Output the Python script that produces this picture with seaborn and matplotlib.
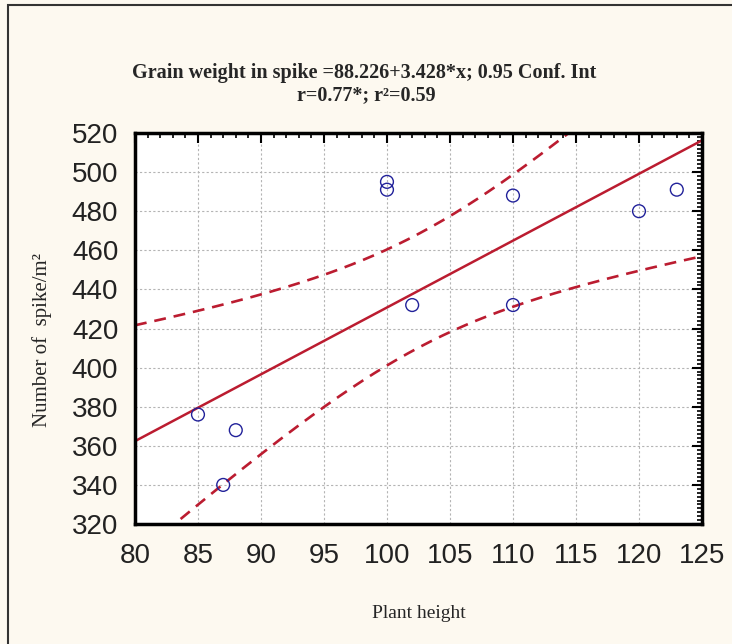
import numpy as np
import pandas as pd
import seaborn as sns
import matplotlib.pyplot as plt
from matplotlib.patches import Rectangle
from matplotlib.ticker import MultipleLocator

# Data
plant_height = [85, 87, 88, 100, 100, 102, 110, 110, 120, 123]
spike_number = [376, 340, 368, 495, 491, 432, 488, 432, 480, 491]

title_line1 = "Grain weight in spike =88.226+3.428*x; 0.95 Conf. Int"
title_line2 = "r=0.77*; r²=0.59"
x_label = "Plant height"
y_label = "Number of  spike/m²"

df = pd.DataFrame({"height": plant_height, "spikes": spike_number})

# Linear fit with 95% confidence band for the mean
x = df["height"].to_numpy(float)
y = df["spikes"].to_numpy(float)
n = len(x)
slope, intercept = np.polyfit(x, y, 1)
resid = y - (intercept + slope * x)
s = np.sqrt(np.sum(resid ** 2) / (n - 2))
t_crit = 2.306  # t(0.975, df=8)
sxx = np.sum((x - x.mean()) ** 2)

grid_x = np.linspace(80, 125, 200)
fit_y = intercept + slope * grid_x
half = t_crit * s * np.sqrt(1 / n + (grid_x - x.mean()) ** 2 / sxx)
band = pd.DataFrame({"x": grid_x, "fit": fit_y, "lo": fit_y - half, "hi": fit_y + half})

sns.set_style("white")
plt.rcParams["font.family"] = ["Liberation Sans", "DejaVu Sans"]

fig = plt.figure(figsize=(7.32, 6.44), dpi=100)
fig.patch.set_facecolor("#fdf9f0")
ax = fig.add_axes([0.1844, 0.1863, 0.7746, 0.6072])
ax.set_facecolor("white")

red = "#bb1c30"
sns.lineplot(data=band, x="x", y="fit", ax=ax, color=red, lw=1.8)
sns.lineplot(data=band, x="x", y="lo", ax=ax, color=red, lw=1.9, linestyle=(0, (4.5, 3)))
sns.lineplot(data=band, x="x", y="hi", ax=ax, color=red, lw=1.9, linestyle=(0, (4.5, 3)))
sns.scatterplot(data=df, x="height", y="spikes", ax=ax, marker="o", s=85,
                facecolor="none", edgecolor="#22229a", linewidth=1.0, zorder=5)

ax.set_xlim(80, 125)
ax.set_ylim(320, 520)
ax.xaxis.set_major_locator(MultipleLocator(5))
ax.xaxis.set_minor_locator(MultipleLocator(1))
ax.yaxis.set_major_locator(MultipleLocator(20))
ax.yaxis.set_minor_locator(MultipleLocator(2))

ax.grid(True, which="major", color="#b4b4b4", lw=0.8, linestyle=(0, (2, 2)))
ax.tick_params(which="both", direction="in", top=True, right=True, color="black")
ax.tick_params(which="major", length=7, width=1.5, labelsize=20, labelcolor="#222222")
ax.tick_params(which="minor", length=3.5, width=1.2)
ax.tick_params(axis="x", which="major", pad=14)
ax.tick_params(axis="y", which="major", pad=12)
for sp in ax.spines.values():
    sp.set_visible(True)
    sp.set_color("black")
    sp.set_linewidth(2.5)

serif = ["Liberation Serif", "DejaVu Serif"]
ax.set_xlabel(x_label, family=serif, fontsize=14)
ax.set_ylabel(y_label, family=serif, fontsize=15, va="center")
ax.xaxis.set_label_coords(0.5, -0.207)
ax.yaxis.set_label_coords(-0.164, 0.47)

fig.text(0.497, 0.887, title_line1, family=serif, fontsize=14.5, fontweight="bold",
         ha="center", va="center")
fig.text(0.500, 0.853, title_line2, family=serif, fontsize=14.5, fontweight="bold",
         ha="center", va="center")

fig.patches.append(Rectangle((8 / 732, -0.1), 1.2, 1.1 - 5 / 644, transform=fig.transFigure,
                             fill=False, edgecolor="#333333", lw=1.5, clip_on=False))

fig.savefig("out.png", dpi=100, facecolor=fig.get_facecolor())
